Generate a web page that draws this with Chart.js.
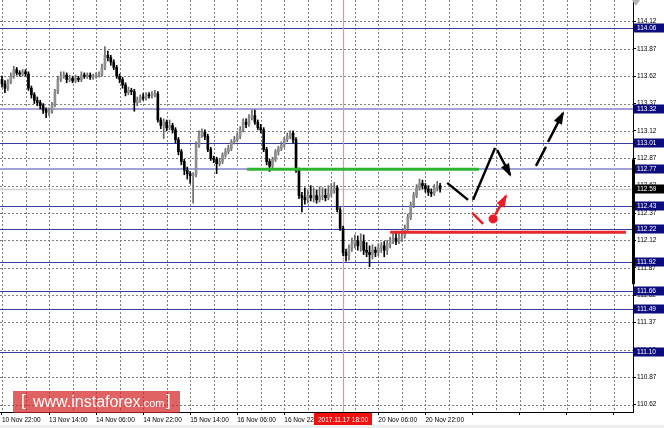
<!DOCTYPE html>
<html>
<head>
<meta charset="utf-8">
<script src="https://cdn.jsdelivr.net/npm/chart.js@4.4.0/dist/chart.umd.min.js"></script>
<style>
  html, body { margin: 0; padding: 0; background: #fff; }
  #wrap { position: relative; width: 664px; height: 428px; }
  #logo {
    position: absolute; left: 13px; top: 391px; width: 167px; height: 22px;
    background: rgba(212, 38, 38, 0.72); color: #fff;
    font-family: 'Liberation Sans', Arial, sans-serif; white-space: nowrap;
  }
  #logo span { position: absolute; }
</style>
</head>
<body>
<div id="wrap">
  <canvas id="chart" width="664" height="428"></canvas>
  <div id="logo">
    <span style="left:8px;top:0px;font-size:17px">[</span>
    <span style="left:20px;top:2px;font-size:16px">www.instaforex<span style="position:static;font-size:11px">.com</span></span>
    <span style="left:153px;top:0px;font-size:17px">]</span>
  </div>
</div>
<script>
// H1 candles, 10 Nov 22:00 ... 21 Nov 03:00
const opens = [
  113.59,113.55,113.51,113.57,113.62,113.68,113.65,113.64,113.66,113.64,
  113.51,113.45,113.40,113.38,113.35,113.31,113.29,113.30,113.36,113.48,
  113.59,113.62,113.63,113.59,113.60,113.58,113.60,113.59,113.63,113.62,
  113.63,113.61,113.62,113.63,113.64,113.70,113.81,113.79,113.75,113.70,
  113.62,113.59,113.54,113.47,113.49,113.48,113.38,113.40,113.43,113.42,
  113.45,113.44,113.45,113.46,113.22,113.17,113.20,113.15,113.17,113.13,
  113.04,112.93,112.84,112.76,112.73,112.71,112.72,112.99,113.08,113.11,
  113.07,112.95,112.87,112.86,112.82,112.84,112.90,112.93,112.96,113.02,
  113.04,113.07,113.13,113.20,113.18,113.24,113.26,113.20,113.15,113.13,
  112.95,112.84,112.80,112.86,112.93,112.96,112.99,113.04,113.07,113.10,
  113.04,112.76,112.53,112.51,112.49,112.53,112.51,112.53,112.49,112.52,
  112.53,112.51,112.55,112.58,112.60,112.40,112.23,112.01,111.98,112.05,
  112.09,112.12,112.07,112.11,112.03,112.01,111.99,112.03,112.01,112.05,
  112.07,112.03,112.09,112.12,112.14,112.11,112.14,112.16,112.23,112.33,
  112.44,112.53,112.60,112.64,112.62,112.59,112.56,112.55,112.60,112.62
];
const highs = [
  113.62,113.58,113.59,113.65,113.71,113.70,113.67,113.68,113.68,113.66,
  113.53,113.47,113.43,113.40,113.37,113.33,113.33,113.38,113.50,113.62,
  113.66,113.66,113.65,113.63,113.62,113.63,113.62,113.66,113.65,113.65,
  113.65,113.64,113.65,113.66,113.73,113.89,113.85,113.81,113.77,113.72,
  113.64,113.61,113.56,113.52,113.51,113.50,113.43,113.45,113.46,113.47,
  113.47,113.48,113.49,113.48,113.24,113.23,113.22,113.22,113.19,113.15,
  113.06,112.95,112.86,112.79,112.75,112.74,113.02,113.12,113.14,113.13,
  113.09,112.97,112.89,112.88,112.87,112.92,112.96,112.99,113.04,113.07,
  113.10,113.16,113.23,113.23,113.27,113.31,113.31,113.22,113.18,113.15,
  112.97,112.86,112.88,112.95,112.98,113.02,113.06,113.10,113.12,113.12,
  113.06,112.78,112.56,112.60,112.58,112.62,112.60,112.58,112.61,112.60,
  112.59,112.62,112.64,112.65,112.62,112.42,112.25,112.04,112.08,112.14,
  112.17,112.16,112.18,112.17,112.10,112.07,112.08,112.06,112.09,112.10,
  112.11,112.12,112.15,112.18,112.20,112.19,112.21,112.26,112.36,112.47,
  112.56,112.63,112.68,112.67,112.64,112.62,112.59,112.63,112.66,112.64
];
const lows = [
  113.52,113.47,113.49,113.55,113.60,113.63,113.62,113.62,113.62,113.49,
  113.42,113.37,113.35,113.32,113.28,113.24,113.26,113.28,113.34,113.46,
  113.57,113.60,113.56,113.57,113.56,113.56,113.57,113.57,113.60,113.60,
  113.59,113.59,113.60,113.61,113.62,113.68,113.76,113.72,113.68,113.60,
  113.56,113.51,113.44,113.45,113.45,113.30,113.35,113.38,113.40,113.40,
  113.42,113.42,113.43,113.20,113.14,113.05,113.12,113.13,113.10,113.01,
  112.90,112.81,112.72,112.68,112.64,112.46,112.70,112.97,113.06,113.04,
  112.93,112.85,112.83,112.73,112.80,112.82,112.88,112.91,112.94,113.00,
  113.02,113.05,113.11,113.15,113.16,113.22,113.18,113.13,113.10,112.93,
  112.81,112.75,112.77,112.84,112.90,112.94,112.97,113.02,113.05,113.01,
  112.74,112.50,112.38,112.45,112.46,112.48,112.47,112.46,112.47,112.49,
  112.48,112.49,112.52,112.55,112.38,112.21,111.98,111.93,111.94,112.02,
  112.05,112.03,112.02,111.99,111.97,111.88,111.95,111.97,111.98,112.01,
  111.97,111.99,112.05,112.09,112.08,112.09,112.11,112.14,112.21,112.31,
  112.42,112.51,112.58,112.59,112.56,112.53,112.52,112.53,112.57,112.56
];
const closes = [
  113.55,113.51,113.57,113.62,113.68,113.65,113.64,113.66,113.64,113.51,
  113.45,113.40,113.38,113.35,113.31,113.29,113.30,113.36,113.48,113.59,
  113.62,113.63,113.59,113.60,113.58,113.60,113.59,113.63,113.62,113.63,
  113.61,113.62,113.63,113.64,113.70,113.81,113.79,113.75,113.70,113.62,
  113.59,113.54,113.47,113.49,113.48,113.38,113.40,113.43,113.42,113.45,
  113.44,113.45,113.46,113.22,113.17,113.20,113.15,113.17,113.13,113.04,
  112.93,112.84,112.76,112.73,112.71,112.72,112.99,113.08,113.11,113.07,
  112.95,112.87,112.86,112.82,112.84,112.90,112.93,112.96,113.02,113.04,
  113.07,113.13,113.20,113.18,113.24,113.26,113.20,113.15,113.13,112.95,
  112.84,112.80,112.86,112.93,112.96,112.99,113.04,113.07,113.10,113.04,
  112.76,112.53,112.51,112.49,112.53,112.51,112.53,112.49,112.52,112.53,
  112.51,112.55,112.58,112.60,112.40,112.23,112.01,111.98,112.05,112.09,
  112.12,112.07,112.11,112.03,112.01,111.99,112.03,112.01,112.05,112.07,
  112.03,112.09,112.12,112.14,112.11,112.14,112.16,112.23,112.33,112.44,
  112.53,112.60,112.64,112.62,112.59,112.56,112.55,112.60,112.62,112.59
];

// support / resistance levels
const levels = [114.06, 113.32, 113.01, 112.77, 112.43, 112.22, 111.92, 111.66, 111.49, 111.10];
const softLevels = [113.32, 112.77];
const lastPrice = 112.59;
const dayRange = [111.72, 112.86];

const yTicks = [110.62, 110.87, 111.12, 111.37, 111.62, 111.87, 112.12, 112.37, 112.62,
                112.87, 113.12, 113.37, 113.62, 113.87, 114.12];
const gridIdx = [0, 8, 16, 24, 32, 40, 48, 56, 64, 72, 80, 88, 96, 104, 112, 120, 128,
                 136, 144, 152, 160, 168, 176, 184, 192, 200, 208];
const labelIdx = [0, 16, 32, 48, 64, 80, 96, 112, 128, 144];
const timeLabels = ['10 Nov 22:00', '13 Nov 14:00', '14 Nov 06:00', '14 Nov 22:00', '15 Nov 14:00',
                    '16 Nov 06:00', '16 Nov 22:00', '17 Nov 14:00', '20 Nov 06:00', '20 Nov 22:00'];
const markIdx = 116;
const markLabel = '2017.11.17 18:00';

// drawn scenario lines, [candle index, price]
const greenLine = [[83.3, 112.77], [162.2, 112.77]];
const redLine = [[132, 112.195], [212.2, 112.195]];
const mainLeg1 = [[151.4, 112.645], [158.5, 112.49]];
const mainLeg2 = [[160.2, 112.49], [167.7, 112.965]];
const mainLeg3 = [[168.4, 112.946], [172.8, 112.718]];
const mainLeg4a = [[181.6, 112.80], [185.0, 112.974]];
const mainLeg4b = [[185.7, 113.02], [190.8, 113.284]];
const altLeg1 = [[159.9, 112.371], [163.6, 112.27]];
const altDot = [[167.0, 112.316]];
const altLeg2 = [[167.7, 112.353], [171.4, 112.526]];

const font = { family: "'Liberation Sans', Arial, sans-serif", size: 6.5 };

const bull = opens.map((o, i) => closes[i] >= o);
const pts = arr => arr.map(p => ({ x: p[0], y: p[1] }));

function lineSet(arr, color, arrow, width) {
  return {
    type: 'line', data: pts(arr), borderColor: color, backgroundColor: color,
    borderWidth: width || 2.5, pointRadius: 0, fill: false, tension: 0, order: 0, arrow: arrow
  };
}

const overlay = {
  id: 'overlay',
  beforeDatasetsDraw(chart) {
    const { ctx, chartArea: a, scales: { x, y } } = chart;
    ctx.save();
    // dotted grid from the scale ticks
    ctx.strokeStyle = '#7c7c7c';
    ctx.lineWidth = 1;
    ctx.setLineDash([2, 2]);
    x.ticks.forEach(t => {
      const gx = Math.round(x.getPixelForValue(t.value)) + 0.5;
      ctx.beginPath(); ctx.moveTo(gx, a.top); ctx.lineTo(gx, a.bottom); ctx.stroke();
    });
    y.ticks.forEach(t => {
      const gy = Math.round(y.getPixelForValue(t.value)) + 0.5;
      ctx.beginPath(); ctx.moveTo(a.left, gy); ctx.lineTo(a.right, gy); ctx.stroke();
    });
    ctx.setLineDash([]);
    let py = Math.round(y.getPixelForValue(lastPrice)) + 0.5;
    ctx.strokeStyle = '#d2d2d2';
    ctx.lineWidth = 1.5;
    ctx.beginPath(); ctx.moveTo(a.left, py); ctx.lineTo(a.right, py); ctx.stroke();
    levels.forEach(v => {
      const soft = softLevels.includes(v);
      const ly = Math.round(y.getPixelForValue(v)) + (soft ? 0 : 0.5);
      ctx.strokeStyle = soft ? '#a2a2d8' : '#3a3aa0';
      ctx.lineWidth = soft ? 2 : 1;
      ctx.beginPath(); ctx.moveTo(a.left, ly); ctx.lineTo(a.right, ly); ctx.stroke();
    });
    const mx = Math.round(x.getPixelForValue(markIdx)) + 0.5;
    ctx.strokeStyle = '#ff8a8a';
    ctx.lineWidth = 1.2;
    ctx.beginPath(); ctx.moveTo(mx, a.top); ctx.lineTo(mx, a.bottom); ctx.stroke();
    ctx.restore();
  },
  afterDatasetsDraw(chart) {
    const ctx = chart.ctx;
    chart.data.datasets.forEach((ds, i) => {
      if (!ds.arrow) return;
      const d = chart.getDatasetMeta(i).data;
      const p1 = d[d.length - 2], p2 = d[d.length - 1];
      const ang = Math.atan2(p2.y - p1.y, p2.x - p1.x);
      const len = 11, half = 4.5;
      ctx.save();
      ctx.fillStyle = ds.borderColor;
      ctx.beginPath();
      ctx.moveTo(p2.x + 2 * Math.cos(ang), p2.y + 2 * Math.sin(ang));
      ctx.lineTo(p2.x - len * Math.cos(ang) + half * Math.sin(ang), p2.y - len * Math.sin(ang) - half * Math.cos(ang));
      ctx.lineTo(p2.x - len * Math.cos(ang) - half * Math.sin(ang), p2.y - len * Math.sin(ang) + half * Math.cos(ang));
      ctx.closePath();
      ctx.fill();
      ctx.restore();
    });
  },
  afterDraw(chart) {
    const { ctx, chartArea: a, scales: { x, y } } = chart;
    ctx.save();
    ctx.font = "6.5px 'Liberation Sans', Arial, sans-serif";
    ctx.textBaseline = 'middle';
    ctx.textAlign = 'left';
    const box = (v, bg) => {
      const by = Math.round(y.getPixelForValue(v));
      ctx.fillStyle = bg;
      ctx.fillRect(a.right + 1, by - 4.5, 30, 9);
      ctx.fillStyle = '#fff';
      ctx.fillText(v.toFixed(2), a.right + 4, by + 0.5);
    };
    levels.forEach(v => box(v, '#0c0c7e'));
    box(lastPrice, '#000');
    // day range bar on the price axis
    const t = y.getPixelForValue(dayRange[1]), b = y.getPixelForValue(dayRange[0]);
    ctx.fillStyle = '#000';
    ctx.fillRect(a.right - 1, t, 3, b - t);
    // time marker box
    const mx = Math.round(x.getPixelForValue(markIdx));
    ctx.fillStyle = '#f01010';
    ctx.fillRect(mx - 29, a.bottom + 1, 58, 14);
    ctx.fillStyle = '#fff';
    ctx.textAlign = 'center';
    ctx.fillText(markLabel, mx, a.bottom + 8.5);
    // scroll marker at top right
    ctx.fillStyle = '#b4b4b4';
    ctx.beginPath();
    ctx.moveTo(a.right - 1, 0); ctx.lineTo(a.right + 7, 0); ctx.lineTo(a.right + 3, 6);
    ctx.closePath(); ctx.fill();
    ctx.fillStyle = '#eeeeee';
    ctx.fillRect(0, 425, chart.width, 3);
    ctx.restore();
  }
};

new Chart(document.getElementById('chart'), {
  type: 'bar',
  data: {
    datasets: [
      {
        type: 'bar', data: lows.map((l, i) => ({ x: i, y: [l, highs[i]] })),
        backgroundColor: bull.map(u => u ? '#6a6a6a' : '#000'),
        barThickness: 1, grouped: false, order: 3
      },
      {
        type: 'bar', data: opens.map((o, i) => ({ x: i, y: [o, closes[i]] })),
        backgroundColor: bull.map(u => u ? '#8e8e8e' : '#000'),
        barThickness: 2, minBarLength: 1, grouped: false, order: 2
      },
      lineSet(greenLine, '#2fb52f', false, 3),
      lineSet(redLine, '#e8262b', false, 3),
      lineSet(mainLeg1, '#000', false),
      lineSet(mainLeg2, '#000', false),
      lineSet(mainLeg3, '#000', true),
      lineSet(mainLeg4a, '#000', false),
      lineSet(mainLeg4b, '#000', true),
      lineSet(altLeg1, '#ee1c24', false),
      lineSet(altLeg2, '#ee1c24', true),
      {
        type: 'line', data: pts(altDot), showLine: false, pointRadius: 4.5,
        pointBackgroundColor: '#ee1c24', pointBorderWidth: 0, order: 0
      }
    ]
  },
  options: {
    responsive: false,
    animation: false,
    devicePixelRatio: 1,
    layout: { padding: 0, autoPadding: false },
    plugins: { legend: { display: false }, tooltip: { enabled: false } },
    scales: {
      x: {
        type: 'linear', min: -0.68, max: 214.6, offset: false,
        grid: {
          drawOnChartArea: false, offset: false, tickLength: 3,
          tickColor: c => (c.tick && c.tick.value % 16 === 0) ? '#000' : 'rgba(0,0,0,0)'
        },
        border: { color: '#000' },
        afterBuildTicks: s => { s.ticks = gridIdx.map(v => ({ value: v })); },
        afterFit: s => { s.height = 16; s.paddingLeft = 0; s.paddingRight = 0; },
        ticks: {
          autoSkip: false, maxRotation: 0, minRotation: 0, align: 'start', padding: 1,
          color: '#000', font: font,
          callback: v => { const k = labelIdx.indexOf(v); return k >= 0 ? timeLabels[k] : ''; }
        }
      },
      y: {
        type: 'linear', position: 'right', min: 110.552, max: 114.316,
        grid: { drawOnChartArea: false, tickLength: 3, tickColor: '#000' },
        border: { color: '#000' },
        afterBuildTicks: s => { s.ticks = yTicks.map(v => ({ value: v })); },
        afterFit: s => { s.width = 31; s.paddingTop = 0; s.paddingBottom = 0; },
        ticks: { padding: 1, color: '#000', font: font, callback: v => v.toFixed(2) }
      }
    }
  },
  plugins: [overlay]
});
</script>
</body>
</html>
